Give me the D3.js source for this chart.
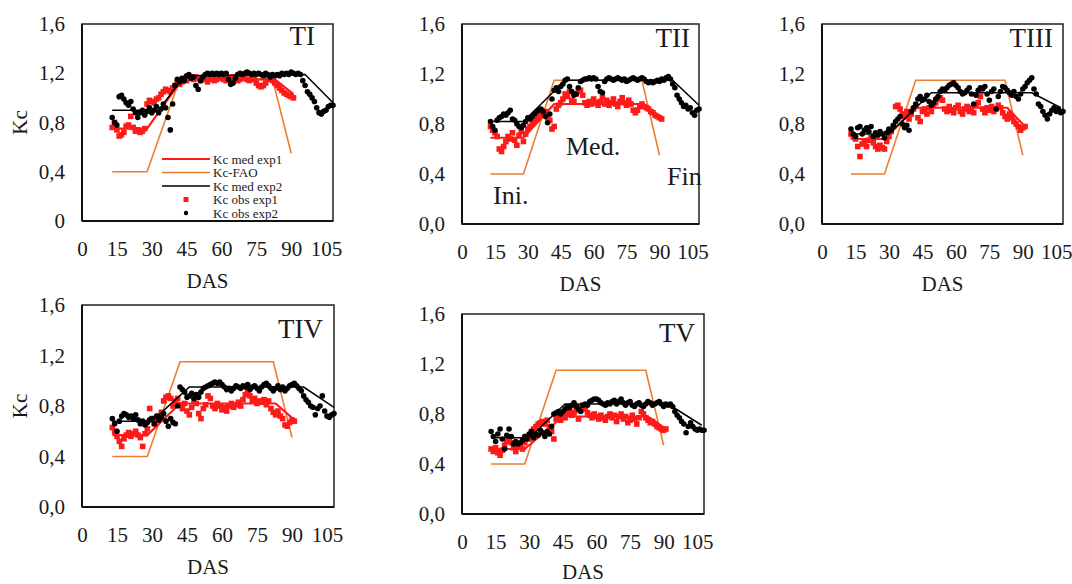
<!DOCTYPE html>
<html>
<head>
<meta charset="utf-8">
<script src="https://d3js.org/d3.v7.min.js"></script>
<style>
  body { margin: 0; background: #fff; }
  text { font-family: "Liberation Serif", "Times New Roman", serif; fill: #1a1a1a; }
</style>
</head>
<body>
<svg id="chart" width="1072" height="584"></svg>
<script>
// ---- data (DAS = days after sowing, Kc) ----
var xTicks = [0, 15, 30, 45, 60, 75, 90, 105];
var yTicks = [0, 0.4, 0.8, 1.2, 1.6];
var daysExp1 = d3.range(13, 92);   // daily observations, exp1
var daysExp2 = d3.range(13, 109);  // daily observations, exp2

var faoKc = [[13, 0.4], [28, 0.4], [42, 1.15], [82, 1.15], [90, 0.55]];

// TI
var tiObs1 = [0.76,0.80,0.74,0.69,0.70,0.72,0.77,0.78,0.85,0.76,0.73,0.74,0.72,0.73,0.75,0.95,0.98,0.97,0.96,0.99,
  1.00,1.03,1.05,1.07,1.06,1.05,1.08,1.10,1.12,1.11,1.13,1.15,1.14,1.16,1.17,1.15,1.17,1.16,1.14,1.16,
  1.15,1.13,1.15,1.16,1.14,1.15,1.17,1.16,1.15,1.14,1.16,1.15,1.17,1.16,1.14,1.15,1.16,1.17,1.15,1.14,
  1.16,1.15,1.12,1.10,1.09,1.10,1.12,1.15,1.16,1.14,1.12,1.10,1.08,1.06,1.04,1.03,1.02,1.01,1.00];
var tiObs2 = [0.84,0.80,0.78,1.01,1.02,0.99,0.96,0.94,0.97,0.91,0.88,0.84,0.88,0.90,0.86,0.89,0.92,0.88,0.90,0.93,
  0.88,0.91,0.95,0.92,0.84,0.74,0.95,1.10,1.15,1.13,1.16,1.14,1.18,1.19,1.16,1.17,1.10,1.07,1.14,1.17,
  1.19,1.20,1.19,1.20,1.19,1.20,1.19,1.20,1.19,1.20,1.15,1.11,1.12,1.16,1.19,1.20,1.19,1.20,1.21,1.20,
  1.19,1.20,1.19,1.20,1.19,1.18,1.20,1.19,1.17,1.19,1.18,1.19,1.18,1.20,1.19,1.20,1.19,1.21,1.20,1.19,
  1.20,1.19,1.14,1.10,1.05,1.03,1.00,0.97,0.92,0.88,0.87,0.89,0.90,0.93,0.94,0.94];
var tiMed1 = [[13, 0.75], [28, 0.75], [43, 1.15], [83, 1.15], [91, 1.03]];
var tiMed2 = [[13, 0.90], [33, 0.90], [44, 1.18], [96, 1.19], [108, 0.96]];

// TII
var tiiObs1 = [0.78,0.75,0.73,0.70,0.60,0.58,0.62,0.66,0.70,0.68,0.73,0.67,0.63,0.71,0.74,0.66,0.72,0.76,0.78,0.80,
  0.82,0.84,0.86,0.88,0.89,0.90,0.85,0.83,0.76,0.78,0.92,0.95,0.97,1.00,1.04,1.02,1.06,0.99,0.98,1.04,
  1.06,1.07,1.03,0.97,0.95,0.98,0.96,1.00,0.97,0.95,0.98,1.01,0.96,0.99,0.95,0.97,1.00,0.96,0.94,0.98,
  1.01,0.97,0.95,0.99,0.96,0.91,0.89,0.91,0.94,0.96,0.94,0.93,0.92,0.90,0.89,0.87,0.86,0.85,0.84];
var tiiObs2 = [0.82,0.78,0.75,0.83,0.85,0.86,0.88,0.87,0.89,0.91,0.84,0.83,0.80,0.78,0.77,0.79,0.82,0.85,0.84,0.86,
  0.88,0.90,0.91,0.92,0.90,0.86,0.81,0.88,1.00,1.07,1.09,1.06,1.10,1.12,1.15,1.16,1.10,1.06,1.03,1.04,
  1.09,1.14,1.15,1.16,1.16,1.17,1.16,1.17,1.16,1.10,1.06,1.05,1.14,1.16,1.17,1.16,1.15,1.16,1.17,1.16,
  1.15,1.16,1.14,1.15,1.16,1.17,1.16,1.15,1.16,1.17,1.16,1.14,1.13,1.14,1.13,1.14,1.15,1.14,1.16,1.15,
  1.17,1.18,1.16,1.12,1.09,1.03,1.00,0.97,0.94,0.95,0.92,0.93,0.89,0.87,0.91,0.92];
var tiiMed1 = [[13, 0.69], [28, 0.69], [42, 0.96], [82, 0.96], [91, 0.85]];
var tiiMed2 = [[13, 0.82], [28, 0.82], [47, 1.15], [96, 1.15], [108, 0.95]];

// TIII
var tiiiObs1 = [0.72,0.70,0.68,0.62,0.54,0.64,0.66,0.62,0.67,0.69,0.65,0.62,0.60,0.63,0.61,0.60,0.66,0.70,0.74,0.78,
  0.94,0.95,0.92,0.88,0.86,0.90,0.84,0.88,0.92,0.94,0.85,0.82,0.90,0.92,0.88,0.93,0.90,0.95,0.97,1.00,
  1.01,0.99,0.92,0.90,0.94,0.91,0.89,0.93,0.95,0.90,0.88,0.92,0.94,0.90,0.93,0.89,0.95,0.97,1.02,0.92,
  0.89,0.93,0.91,0.94,0.90,0.92,0.95,0.93,0.89,0.86,0.84,0.88,0.85,0.82,0.80,0.78,0.75,0.77,0.78];
var tiiiObs2 = [0.76,0.72,0.70,0.77,0.78,0.72,0.75,0.77,0.74,0.78,0.70,0.73,0.71,0.74,0.72,0.69,0.73,0.76,0.75,0.79,
  0.82,0.84,0.86,0.80,0.77,0.79,0.75,0.90,0.93,0.96,1.00,1.02,0.99,1.00,1.03,0.98,0.95,0.97,1.00,1.02,
  1.06,1.08,1.07,1.09,1.11,1.12,1.13,1.11,1.09,1.06,1.04,1.05,1.07,1.09,1.04,0.96,1.03,1.07,1.09,1.08,
  1.10,1.04,0.99,1.06,1.08,0.92,1.02,1.06,1.10,1.09,1.07,1.05,1.03,1.06,1.02,1.00,1.04,1.08,1.10,1.13,
  1.15,1.17,1.08,1.04,0.96,0.94,0.90,0.87,0.84,0.88,0.91,0.93,0.90,0.92,0.89,0.90];
var tiiiMed1 = [[13, 0.68], [28, 0.68], [42, 0.93], [83, 0.93], [91, 0.78]];
var tiiiMed2 = [[13, 0.72], [30, 0.72], [49, 1.05], [94, 1.05], [107, 0.93]];

// TIV
var tivObs1 = [0.63,0.60,0.56,0.52,0.48,0.54,0.57,0.59,0.56,0.58,0.60,0.57,0.55,0.48,0.58,0.62,0.78,0.70,0.66,0.69,
  0.72,0.75,0.84,0.87,0.88,0.86,0.80,0.84,0.86,0.81,0.78,0.82,0.76,0.73,0.79,0.84,0.82,0.74,0.70,0.78,
  0.81,0.88,0.86,0.80,0.78,0.82,0.80,0.77,0.79,0.76,0.80,0.82,0.79,0.81,0.83,0.80,0.85,0.89,0.92,0.88,
  0.84,0.86,0.82,0.84,0.83,0.85,0.81,0.84,0.78,0.75,0.73,0.76,0.72,0.70,0.65,0.64,0.67,0.69,0.68];
var tivObs2 = [0.70,0.66,0.60,0.68,0.72,0.74,0.73,0.71,0.72,0.70,0.73,0.69,0.66,0.68,0.65,0.67,0.69,0.70,0.66,0.72,
  0.69,0.71,0.74,0.68,0.64,0.70,0.67,0.66,0.80,0.95,0.93,0.91,0.87,0.88,0.90,0.86,0.89,0.87,0.91,0.94,
  0.95,0.96,0.97,0.98,0.99,0.98,0.99,0.97,0.95,0.93,0.94,0.92,0.94,0.96,0.95,0.94,0.96,0.95,0.97,0.93,
  0.95,0.96,0.94,0.92,0.95,0.97,0.98,0.96,0.94,0.92,0.94,0.96,0.93,0.95,0.92,0.94,0.96,0.97,0.98,0.96,
  0.94,0.92,0.88,0.85,0.83,0.80,0.79,0.73,0.78,0.80,0.88,0.76,0.72,0.71,0.73,0.74];
var tivMed1 = [[13, 0.57], [28, 0.57], [42, 0.82], [83, 0.82], [91, 0.69]];
var tivMed2 = [[13, 0.68], [30, 0.68], [46, 0.95], [95, 0.95], [108, 0.79]];

// TV
var tvObs1 = [0.52,0.50,0.53,0.49,0.47,0.51,0.55,0.58,0.60,0.57,0.53,0.50,0.54,0.55,0.52,0.57,0.62,0.60,0.66,0.68,
  0.70,0.72,0.73,0.74,0.72,0.75,0.70,0.66,0.60,0.76,0.78,0.75,0.79,0.77,0.80,0.82,0.79,0.81,0.83,0.76,
  0.85,0.87,0.84,0.81,0.79,0.77,0.80,0.78,0.76,0.79,0.77,0.75,0.78,0.80,0.77,0.79,0.74,0.78,0.80,0.76,
  0.78,0.73,0.75,0.79,0.76,0.72,0.77,0.82,0.80,0.77,0.75,0.73,0.74,0.72,0.70,0.69,0.68,0.67,0.68];
var tvObs2 = [0.66,0.62,0.58,0.64,0.68,0.60,0.52,0.63,0.68,0.62,0.56,0.58,0.56,0.57,0.59,0.62,0.60,0.64,0.66,0.61,
  0.64,0.63,0.67,0.65,0.62,0.66,0.64,0.70,0.80,0.81,0.82,0.80,0.82,0.84,0.86,0.85,0.87,0.89,0.86,0.84,
  0.82,0.87,0.88,0.87,0.90,0.91,0.92,0.92,0.91,0.89,0.88,0.87,0.89,0.88,0.90,0.91,0.88,0.90,0.92,0.89,
  0.87,0.89,0.90,0.87,0.86,0.88,0.89,0.87,0.86,0.88,0.90,0.89,0.87,0.88,0.89,0.90,0.88,0.86,0.88,0.87,
  0.88,0.86,0.82,0.79,0.77,0.74,0.72,0.65,0.70,0.73,0.70,0.68,0.67,0.68,0.67,0.67];
var tvMed1 = [[13, 0.52], [28, 0.52], [45, 0.78], [83, 0.78], [91, 0.68]];
var tvMed2 = [[13, 0.61], [30, 0.61], [46, 0.88], [92, 0.88], [107, 0.71]];

var legendLabels = ["Kc med exp1", "Kc-FAO", "Kc med exp2", "Kc obs exp1", "Kc obs exp2"];

// ---- layout ----
var RED = "#ff1a1a", ORANGE = "#ed7d31", BLACK = "#000";

var panels = [
  { name: "TI", x0: 82, x1: 333, y0: 24, y1: 221, tx: 315, ty: 45, zero: "0", kc: true, legend: true,
    obs1: tiObs1, obs2: tiObs2, med1: tiMed1, med2: tiMed2 },
  { name: "TII", x0: 462, x1: 699, y0: 24, y1: 224, tx: 690, ty: 47, notes: true,
    obs1: tiiObs1, obs2: tiiObs2, med1: tiiMed1, med2: tiiMed2 },
  { name: "TIII", x0: 822, x1: 1063, y0: 24, y1: 224, tx: 1053, ty: 47,
    obs1: tiiiObs1, obs2: tiiiObs2, med1: tiiiMed1, med2: tiiiMed2 },
  { name: "TIV", x0: 82, x1: 334, y0: 305, y1: 507, tx: 323, ty: 338, kc: true,
    obs1: tivObs1, obs2: tivObs2, med1: tivMed1, med2: tivMed2 },
  { name: "TV", x0: 462, x1: 704, y0: 314, y1: 514, tx: 695, ty: 342,
    obs1: tvObs1, obs2: tvObs2, med1: tvMed1, med2: tvMed2 }
];

var svg = d3.select("#chart");

panels.forEach(function(p) {
  var x = d3.scaleLinear().domain([0, 108]).range([p.x0, p.x1]);
  var y = d3.scaleLinear().domain([0, 1.6]).range([p.y1, p.y0]);
  var g = svg.append("g");

  var line = d3.line().x(function(d) { return x(d[0]); }).y(function(d) { return y(d[1]); });

  // axes (labels only, no tick marks)
  var yAxis = g.append("g")
    .attr("transform", "translate(" + p.x0 + ",0)")
    .call(d3.axisLeft(y).tickValues(yTicks).tickSize(0).tickPadding(17)
      .tickFormat(function(d) { return d === 0 && p.zero ? p.zero : d3.format(".1f")(d).replace(".", ","); }));
  var xAxis = g.append("g")
    .attr("transform", "translate(0," + p.y1 + ")")
    .call(d3.axisBottom(x).tickValues(xTicks).tickSize(0).tickPadding(20));
  [yAxis, xAxis].forEach(function(a) {
    a.select(".domain").remove();
    a.selectAll("text").style("font-family", "Liberation Serif").style("font-size", "21px").attr("fill", "#1a1a1a");
  });

  // plot frame
  g.append("rect")
    .attr("x", p.x0).attr("y", p.y0)
    .attr("width", p.x1 - p.x0).attr("height", p.y1 - p.y0)
    .attr("fill", "none").attr("stroke", "#222").attr("stroke-width", 1.5);
  g.append("line")
    .attr("x1", p.x0).attr("x2", p.x1).attr("y1", p.y1).attr("y2", p.y1)
    .attr("stroke", "#111").attr("stroke-width", 2);
  g.append("line")
    .attr("x1", p.x0).attr("x2", p.x0).attr("y1", p.y0).attr("y2", p.y1)
    .attr("stroke", "#111").attr("stroke-width", 2);

  // FAO curve
  g.append("path").datum(faoKc).attr("d", line)
    .attr("fill", "none").attr("stroke", ORANGE).attr("stroke-width", 1.6);

  // observed exp1 (red squares)
  g.selectAll(".sq").data(p.obs1).enter().append("rect")
    .attr("x", function(d, i) { return x(daysExp1[i]) - 2.8; })
    .attr("y", function(d) { return y(d) - 2.8; })
    .attr("width", 5.6).attr("height", 5.6)
    .attr("fill", RED);

  g.append("path").datum(p.med1).attr("d", line)
    .attr("fill", "none").attr("stroke", RED).attr("stroke-width", 2.2);

  // observed exp2 (black dots)
  g.selectAll(".dot").data(p.obs2).enter().append("circle")
    .attr("cx", function(d, i) { return x(daysExp2[i]); })
    .attr("cy", function(d) { return y(d); })
    .attr("r", 2.8)
    .attr("fill", BLACK);

  g.append("path").datum(p.med2).attr("d", line)
    .attr("fill", "none").attr("stroke", BLACK).attr("stroke-width", 1.5);

  // title
  g.append("text").attr("x", p.tx).attr("y", p.ty)
    .attr("text-anchor", "end").style("font-size", "27px").text(p.name);

  // DAS label
  g.append("text").attr("x", (p.x0 + p.x1) / 2).attr("y", Math.min(p.y1 + 67, 579))
    .attr("text-anchor", "middle").style("font-size", "21px").text("DAS");

  if (p.kc) {
    g.append("text")
      .attr("transform", "translate(" + (p.x0 - 62) + "," + ((p.y0 + p.y1) / 2) + ") rotate(-90)")
      .attr("text-anchor", "middle").attr("dy", "0.35em")
      .style("font-size", "21px").text("Kc");
  }

  if (p.notes) {
    g.append("text").attr("x", 493).attr("y", 204).style("font-size", "26px").text("Ini.");
    g.append("text").attr("x", 566).attr("y", 155).style("font-size", "26px").text("Med.");
    g.append("text").attr("x", 667).attr("y", 185).style("font-size", "26px").text("Fin");
  }

  if (p.legend) {
    var lg = g.append("g").attr("transform", "translate(162,159)");
    var rowH = 13.5;
    var swatch = [
      { type: "line", color: RED, w: 2 },
      { type: "line", color: ORANGE, w: 1.6 },
      { type: "line", color: BLACK, w: 1.5 },
      { type: "square", color: RED },
      { type: "dot", color: BLACK }
    ];
    legendLabels.forEach(function(lab, i) {
      var s = swatch[i], yy = i * rowH;
      if (s.type === "line") {
        lg.append("line").attr("x1", 0).attr("x2", 48).attr("y1", yy).attr("y2", yy)
          .attr("stroke", s.color).attr("stroke-width", s.w);
      } else if (s.type === "square") {
        lg.append("rect").attr("x", 21.5).attr("y", yy - 2.5).attr("width", 5).attr("height", 5).attr("fill", s.color);
      } else {
        lg.append("circle").attr("cx", 24).attr("cy", yy).attr("r", 2.2).attr("fill", s.color);
      }
      lg.append("text").attr("x", 51).attr("y", yy).attr("dy", "0.35em")
        .style("font-size", "13px").text(lab);
    });
  }
});
</script>
</body>
</html>
